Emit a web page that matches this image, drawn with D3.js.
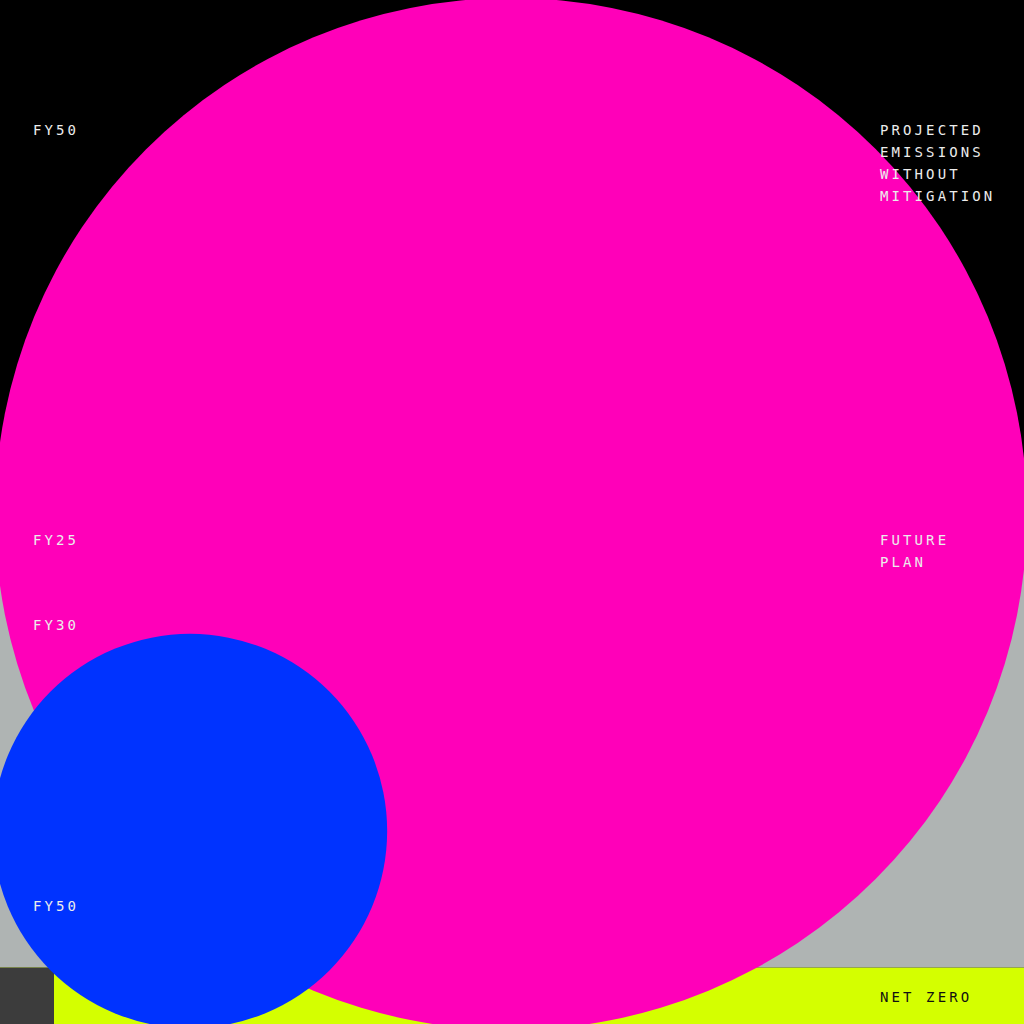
<!DOCTYPE html>
<html>
<head>
<meta charset="utf-8">
<script src="https://cdn.jsdelivr.net/npm/d3@7"></script>
<style>
  html, body { margin: 0; padding: 0; background: #000; }
  svg { display: block; }
  text { font-family: "DejaVu Sans Mono", "Liberation Mono", monospace; }
</style>
</head>
<body>
<div id="chart"></div>
<script>
// ---- data ----
const bandNames = ["FY50 projected", "FY25 future plan", "Net zero"];
const bandStarts = [0, 50, 94.5];          // band start on a 0–100 vertical scale
const circleNames = ["Projected emissions without mitigation", "Net zero path"];
const circleValues = [100, 14.6];          // relative emissions (area)
const leftLabels = ["FY50", "FY25", "FY30", "FY50"];
const leftLabelPos = [12.7, 52.7, 61.0, 88.5];
const rightLabels = [["PROJECTED", "EMISSIONS", "WITHOUT", "MITIGATION"], ["FUTURE", "PLAN"], ["NET ZERO"]];
const rightLabelPos = [12.7, 52.7, 97.4];

// ---- layout ----
const W = 1024, H = 1024;
const bandColors = ["#000000", "#afb4b3", "#d4ff00"];
const circleColors = ["#ff00b9", "#0033ff"];
const circleCenters = [[511, 514], [190, 831]];

const y = d3.scaleLinear().domain([0, 100]).range([0, H]);
const r = d3.scaleSqrt().domain([0, 100]).range([0, 516]);

const svg = d3.select("#chart").append("svg")
  .attr("width", W).attr("height", H)
  .attr("viewBox", `0 0 ${W} ${H}`);

// bands
const bandEnds = bandStarts.slice(1).concat([100]);
svg.append("g").selectAll("rect")
  .data(bandNames)
  .join("rect")
  .attr("x", 0)
  .attr("y", (d, i) => y(bandStarts[i]))
  .attr("width", W)
  .attr("height", (d, i) => y(bandEnds[i]) - y(bandStarts[i]))
  .attr("fill", (d, i) => bandColors[i]);

// dark corner block in net-zero band
svg.append("rect")
  .attr("x", 0).attr("y", y(bandStarts[2]))
  .attr("width", 54).attr("height", H - y(bandStarts[2]))
  .attr("fill", "#3c3c3c");

// circles
svg.append("g").selectAll("circle")
  .data(circleValues)
  .join("circle")
  .attr("cx", (d, i) => circleCenters[i][0])
  .attr("cy", (d, i) => circleCenters[i][1])
  .attr("r", d => r(d))
  .attr("fill", (d, i) => circleColors[i]);

// left labels
svg.append("g").selectAll("text")
  .data(leftLabels)
  .join("text")
  .attr("x", 33)
  .attr("y", (d, i) => y(leftLabelPos[i]))
  .attr("dy", "0.35em")
  .attr("fill", "#ececec")
  .attr("font-size", 14)
  .attr("letter-spacing", 3.1)
  .text(d => d);

// right labels
const rg = svg.append("g").selectAll("text")
  .data(rightLabels)
  .join("text")
  .attr("x", 880)
  .attr("y", (d, i) => y(rightLabelPos[i]))
  .attr("fill", (d, i) => i === 2 ? "#111111" : "#ececec")
  .attr("font-size", 14)
  .attr("letter-spacing", 3.1);
rg.selectAll("tspan")
  .data(d => d)
  .join("tspan")
  .attr("x", 880)
  .attr("dy", (d, j) => j === 0 ? "0.35em" : "22px")
  .text(d => d);
</script>
</body>
</html>
